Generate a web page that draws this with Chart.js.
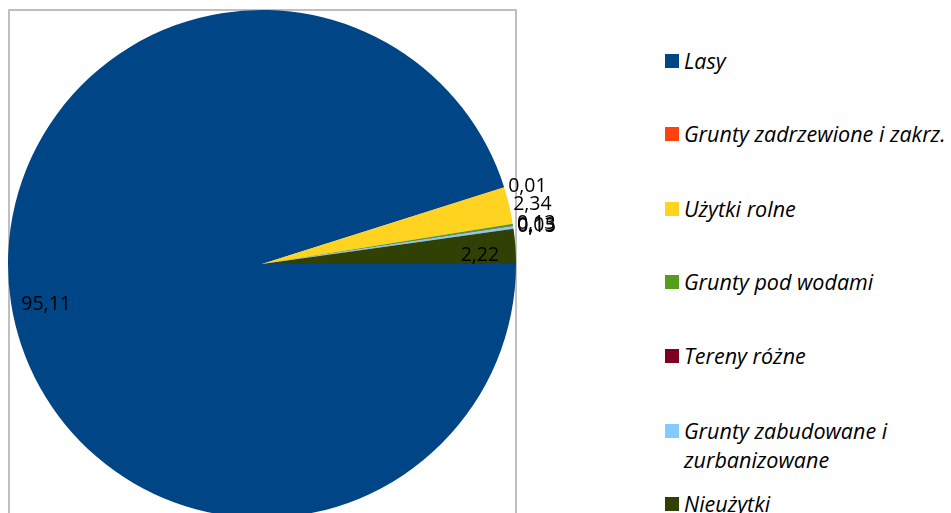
<!DOCTYPE html>
<html>
<head>
<meta charset="utf-8">
<script src="https://cdn.jsdelivr.net/npm/chart.js@4.4.0/dist/chart.umd.min.js"></script>
<style>
  html, body { margin: 0; padding: 0; background: #fff; overflow: hidden; }
  body { width: 951px; height: 513px; position: relative; }
  #pie { position: absolute; left: 0; top: 0; }
  #legend { position: absolute; left: 665px; top: 0; font-family: "Open Sans", Lato, sans-serif; font-style: italic; font-size: 21.5px; color: #000; }
  .item { position: absolute; left: 0; white-space: nowrap; line-height: 29px; }
  .box { position: absolute; left: 0; width: 14px; height: 14px; }
  .txt { position: absolute; left: 19px; }
</style>
</head>
<body>
<canvas id="pie" width="640" height="528"></canvas>
<div id="legend"></div>
<script>
const $ = (id) => document.getElementById(id);

const categories = [
  "Lasy",
  "Grunty zadrzewione i zakrz.",
  "Użytki rolne",
  "Grunty pod wodami",
  "Tereny różne",
  ["Grunty zabudowane i", "zurbanizowane"],
  "Nieużytki",
];
const shares = [95.11, 0.01, 2.34, 0.13, 0.03, 0.15, 2.22];
const valueLabels = ["95,11", "0,01", "2,34", "0,13", "0,03", "0,15", "2,22"];

const COLORS = ["#004586", "#ff420e", "#ffd320", "#579d1c", "#7e0021", "#83caff", "#314004"];
// which slice labels sit inside the pie (Excel "best fit")
const INSIDE = [true, false, false, false, false, false, true];
const LEGEND_Y = [60, 133, 208, 281, 355, 430, 503];

const plotBorder = {
  id: "plotBorder",
  beforeDatasetsDraw(chart) {
    const { ctx, chartArea: a } = chart;
    ctx.save();
    ctx.strokeStyle = "#bfbfbf";
    ctx.lineWidth = 2;
    ctx.strokeRect(a.left + 1, a.top, a.width - 1, a.height + 40);
    ctx.restore();
  },
};

const sliceLabels = {
  id: "sliceLabels",
  afterDatasetsDraw(chart) {
    const { ctx } = chart;
    const arcs = chart.getDatasetMeta(0).data;
    ctx.save();
    ctx.font = "19.5px 'Open Sans', Lato, sans-serif";
    ctx.fillStyle = "#000";
    ctx.textBaseline = "middle";
    arcs.forEach((arc, i) => {
      const { x, y, startAngle, endAngle, outerRadius } = arc.getProps(["x", "y", "startAngle", "endAngle", "outerRadius"]);
      const mid = (startAngle + endAngle) / 2;
      if (INSIDE[i]) {
        const r = outerRadius * 0.86;
        ctx.textAlign = "center";
        ctx.fillText(valueLabels[i], x + Math.cos(mid) * r, y + Math.sin(mid) * r + 7);
      } else {
        ctx.textAlign = "left";
        ctx.fillText(valueLabels[i], x + Math.cos(mid) * outerRadius + 4, y + Math.sin(mid) * outerRadius - 1);
      }
    });
    ctx.restore();
  },
};

new Chart($("pie").getContext("2d"), {
  type: "pie",
  data: {
    labels: categories,
    datasets: [{
      data: shares,
      backgroundColor: COLORS,
      borderWidth: 0,
    }],
  },
  options: {
    responsive: false,
    animation: false,
    rotation: 90,
    layout: { padding: { left: 8, top: 10, right: 124, bottom: 10 } },
    plugins: {
      legend: { display: false },
      tooltip: { enabled: false },
    },
  },
  plugins: [plotBorder, sliceLabels],
});

const legend = $("legend");
categories.forEach((c, i) => {
  const lines = Array.isArray(c) ? c : [c];
  const item = document.createElement("div");
  item.className = "item";
  item.style.top = (LEGEND_Y[i] - 14.5) + "px";
  const box = document.createElement("div");
  box.className = "box";
  box.style.background = COLORS[i];
  box.style.top = "8px";
  const txt = document.createElement("div");
  txt.className = "txt";
  txt.innerHTML = lines.join("<br>");
  item.appendChild(box);
  item.appendChild(txt);
  legend.appendChild(item);
});
</script>
</body>
</html>
